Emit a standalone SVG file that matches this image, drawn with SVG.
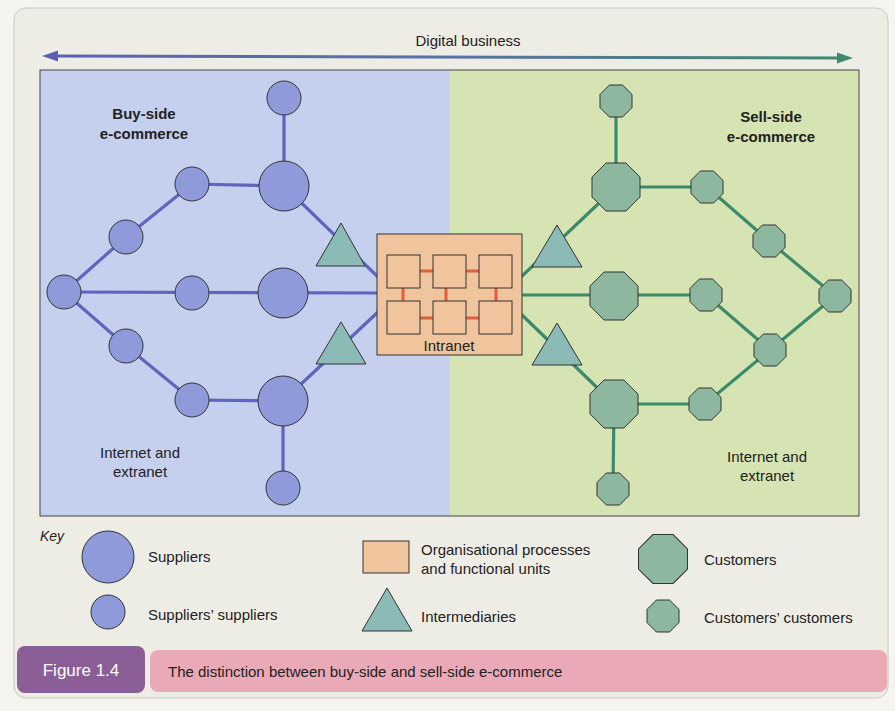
<svg xmlns="http://www.w3.org/2000/svg" xmlns:xlink="http://www.w3.org/1999/xlink" width="895" height="711" viewBox="0 0 895 711">
  <defs>
    <style>
      text { font-family: "Liberation Sans", Arial, sans-serif; fill: #222; }
      .t15 { font-size: 15px; }
      .bold { font-weight: bold; }
      .sup { fill: #8f9adb; stroke: #333; stroke-width: 1; }
      .cus { fill: #8db89f; stroke: #333; stroke-width: 1; }
      .tri { fill: #8cbab6; stroke: #333; stroke-width: 1; }
      .eb { stroke: #5f65bd; stroke-width: 3.2; fill: none; }
      .eg { stroke: #3c8a6a; stroke-width: 3.2; fill: none; }
      .red { stroke: #e0603c; stroke-width: 3; fill: none; }
      .unit { fill: #f0c49c; stroke: #333; stroke-width: 1; }
    </style>
    <polygon id="octS" points="16,6.6 6.6,16 -6.6,16 -16,6.6 -16,-6.6 -6.6,-16 6.6,-16 16,-6.6"/>
    <polygon id="octL" points="24,9.9 9.9,24 -9.9,24 -24,9.9 -24,-9.9 -9.9,-24 9.9,-24 24,-9.9"/>
    <linearGradient id="arrowGrad" x1="42" y1="0" x2="853" y2="0" gradientUnits="userSpaceOnUse">
      <stop offset="0" stop-color="#5a61b3"/>
      <stop offset="0.45" stop-color="#5d6fa8"/>
      <stop offset="1" stop-color="#3e8a6e"/>
    </linearGradient>
  </defs>

  <!-- page -->
  <rect x="0" y="0" width="895" height="711" fill="#f5f4ee"/>
  <rect x="14" y="8" width="874" height="690" rx="12" fill="#eeede5" stroke="#c9c9c1" stroke-width="1"/>

  <!-- Digital business arrow -->
  <g id="digital-business">
    <line x1="52" y1="56" x2="843" y2="58" stroke="url(#arrowGrad)" stroke-width="3"/>
    <polygon points="42,56 58,50.5 58,61.5" fill="#5a61b3"/>
    <polygon points="853,58 837,52.5 837,63.5" fill="#3e8a6e"/>
    <text x="468" y="46" class="t15" text-anchor="middle">Digital business</text>
  </g>

  <!-- panels -->
  <g id="panels">
    <rect x="40" y="70" width="410" height="446" fill="#c4d0ee"/>
    <rect x="450" y="70" width="409" height="446" fill="#d5e4b2"/>
    <rect x="40" y="70" width="819" height="446" fill="none" stroke="#444" stroke-width="1"/>
  </g>

  <!-- connectors -->
  <g id="connectors">
    <line class="eb" x1="284" y1="98" x2="284" y2="186"/>
    <line class="eb" x1="284" y1="186" x2="192" y2="184"/>
    <line class="eb" x1="192" y1="184" x2="126" y2="237"/>
    <line class="eb" x1="126" y1="237" x2="64" y2="292"/>
    <line class="eb" x1="64" y1="292" x2="378" y2="293"/>
    <line class="eb" x1="64" y1="292" x2="126" y2="346"/>
    <line class="eb" x1="126" y1="346" x2="192" y2="400"/>
    <line class="eb" x1="192" y1="400" x2="283" y2="401"/>
    <line class="eb" x1="283" y1="401" x2="283" y2="488"/>
    <line class="eb" x1="284" y1="186" x2="378" y2="277"/>
    <line class="eb" x1="283" y1="401" x2="378" y2="312"/>

    <line class="eg" x1="616" y1="101" x2="616" y2="187"/>
    <line class="eg" x1="616" y1="187" x2="707" y2="187"/>
    <line class="eg" x1="707" y1="187" x2="769" y2="241"/>
    <line class="eg" x1="769" y1="241" x2="835" y2="296"/>
    <line class="eg" x1="835" y1="296" x2="770" y2="350"/>
    <line class="eg" x1="770" y1="350" x2="705" y2="404"/>
    <line class="eg" x1="705" y1="404" x2="614" y2="404"/>
    <line class="eg" x1="614" y1="404" x2="613" y2="489"/>
    <line class="eg" x1="521" y1="295" x2="706" y2="295"/>
    <line class="eg" x1="706" y1="295" x2="770" y2="350"/>
    <line class="eg" x1="616" y1="187" x2="521" y2="277"/>
    <line class="eg" x1="521" y1="314" x2="614" y2="404"/>
  </g>

  <!-- buy-side nodes -->
  <g id="ss-top"><circle class="sup" cx="284" cy="98" r="17"/></g>
  <g id="s-top"><circle class="sup" cx="284" cy="186" r="25"/></g>
  <g id="ss-a"><circle class="sup" cx="192" cy="184" r="17"/></g>
  <g id="ss-b"><circle class="sup" cx="126" cy="237" r="17"/></g>
  <g id="ss-left"><circle class="sup" cx="64" cy="292" r="17"/></g>
  <g id="ss-mid"><circle class="sup" cx="192" cy="293" r="17"/></g>
  <g id="s-mid"><circle class="sup" cx="283" cy="293" r="25"/></g>
  <g id="ss-c"><circle class="sup" cx="126" cy="346" r="17"/></g>
  <g id="ss-d"><circle class="sup" cx="192" cy="400" r="17"/></g>
  <g id="s-bot"><circle class="sup" cx="283" cy="401" r="25"/></g>
  <g id="ss-bot"><circle class="sup" cx="283" cy="488" r="17"/></g>

  <!-- intermediaries -->
  <g id="int-buy-top"><polygon class="tri" points="341,223 316,266 365,266"/></g>
  <g id="int-buy-bot"><polygon class="tri" points="341,322 316,364 366,364"/></g>
  <g id="int-sell-top"><polygon class="tri" points="557,225 532,267 582,267"/></g>
  <g id="int-sell-bot"><polygon class="tri" points="557,323 532,365 582,365"/></g>

  <!-- sell-side nodes -->
  <g id="cc-top"><use href="#octS" class="cus" transform="translate(616,101)"/></g>
  <g id="c-top"><use href="#octL" class="cus" transform="translate(616,187)"/></g>
  <g id="cc-a"><use href="#octS" class="cus" transform="translate(707,187)"/></g>
  <g id="cc-b"><use href="#octS" class="cus" transform="translate(769,241)"/></g>
  <g id="cc-right"><use href="#octS" class="cus" transform="translate(835,296)"/></g>
  <g id="c-mid"><use href="#octL" class="cus" transform="translate(614,296)"/></g>
  <g id="cc-mid"><use href="#octS" class="cus" transform="translate(706,295)"/></g>
  <g id="cc-c"><use href="#octS" class="cus" transform="translate(770,350)"/></g>
  <g id="c-bot"><use href="#octL" class="cus" transform="translate(614,404)"/></g>
  <g id="cc-d"><use href="#octS" class="cus" transform="translate(705,404)"/></g>
  <g id="cc-bot"><use href="#octS" class="cus" transform="translate(613,489)"/></g>

  <!-- intranet -->
  <g id="intranet">
    <rect class="unit" x="377" y="234" width="145" height="121"/>
    <line class="red" x1="420" y1="271" x2="433" y2="271"/>
    <line class="red" x1="466" y1="271" x2="479" y2="271"/>
    <line class="red" x1="420" y1="318" x2="433" y2="318"/>
    <line class="red" x1="466" y1="318" x2="479" y2="318"/>
    <line class="red" x1="403" y1="288" x2="403" y2="301"/>
    <line class="red" x1="446" y1="288" x2="446" y2="301"/>
    <line class="red" x1="496" y1="288" x2="496" y2="301"/>
    <rect x="387" y="255" width="33" height="33" fill="none" stroke="#333" stroke-width="1"/>
    <rect x="433" y="255" width="33" height="33" fill="none" stroke="#333" stroke-width="1"/>
    <rect x="479" y="255" width="33" height="33" fill="none" stroke="#333" stroke-width="1"/>
    <rect x="387" y="301" width="33" height="33" fill="none" stroke="#333" stroke-width="1"/>
    <rect x="433" y="301" width="33" height="33" fill="none" stroke="#333" stroke-width="1"/>
    <rect x="479" y="301" width="33" height="33" fill="none" stroke="#333" stroke-width="1"/>
    <text x="449" y="351" class="t15" text-anchor="middle">Intranet</text>
  </g>

  <!-- labels -->
  <g id="labels">
    <text x="144" y="119" class="t15 bold" text-anchor="middle">Buy-side</text>
    <text x="144" y="139" class="t15 bold" text-anchor="middle">e-commerce</text>
    <text x="771" y="122" class="t15 bold" text-anchor="middle">Sell-side</text>
    <text x="771" y="142" class="t15 bold" text-anchor="middle">e-commerce</text>
    <text x="140" y="458" class="t15" text-anchor="middle">Internet and</text>
    <text x="140" y="477" class="t15" text-anchor="middle">extranet</text>
    <text x="767" y="462" class="t15" text-anchor="middle">Internet and</text>
    <text x="767" y="481" class="t15" text-anchor="middle">extranet</text>
  </g>

  <!-- key -->
  <g id="key">
    <text x="40" y="541" font-size="14" font-style="italic">Key</text>
    <circle class="sup" cx="108" cy="557" r="26"/>
    <text x="148" y="562" class="t15">Suppliers</text>
    <circle class="sup" cx="108" cy="612" r="17"/>
    <text x="148" y="620" class="t15">Suppliers’ suppliers</text>
    <rect class="unit" x="363" y="541" width="46" height="32"/>
    <text x="421" y="555" class="t15">Organisational processes</text>
    <text x="421" y="574" class="t15">and functional units</text>
    <polygon class="tri" points="387,588 362,631 412,631"/>
    <text x="421" y="622" class="t15">Intermediaries</text>
    <use href="#octL" class="cus" transform="translate(663,559) scale(1.02)"/>
    <text x="704" y="565" class="t15">Customers</text>
    <use href="#octS" class="cus" transform="translate(663,616)"/>
    <text x="704" y="623" class="t15">Customers’ customers</text>
  </g>

  <!-- caption -->
  <g id="caption">
    <rect x="150" y="650" width="737" height="42" rx="8" fill="#eaa9b7"/>
    <rect x="17" y="646" width="128" height="47" rx="8" fill="#8c5e97"/>
    <text x="81" y="676" font-size="17" text-anchor="middle" style="fill:#ffffff">Figure 1.4</text>
    <text x="168" y="677" class="t15">The distinction between buy-side and sell-side e-commerce</text>
  </g>
</svg>
